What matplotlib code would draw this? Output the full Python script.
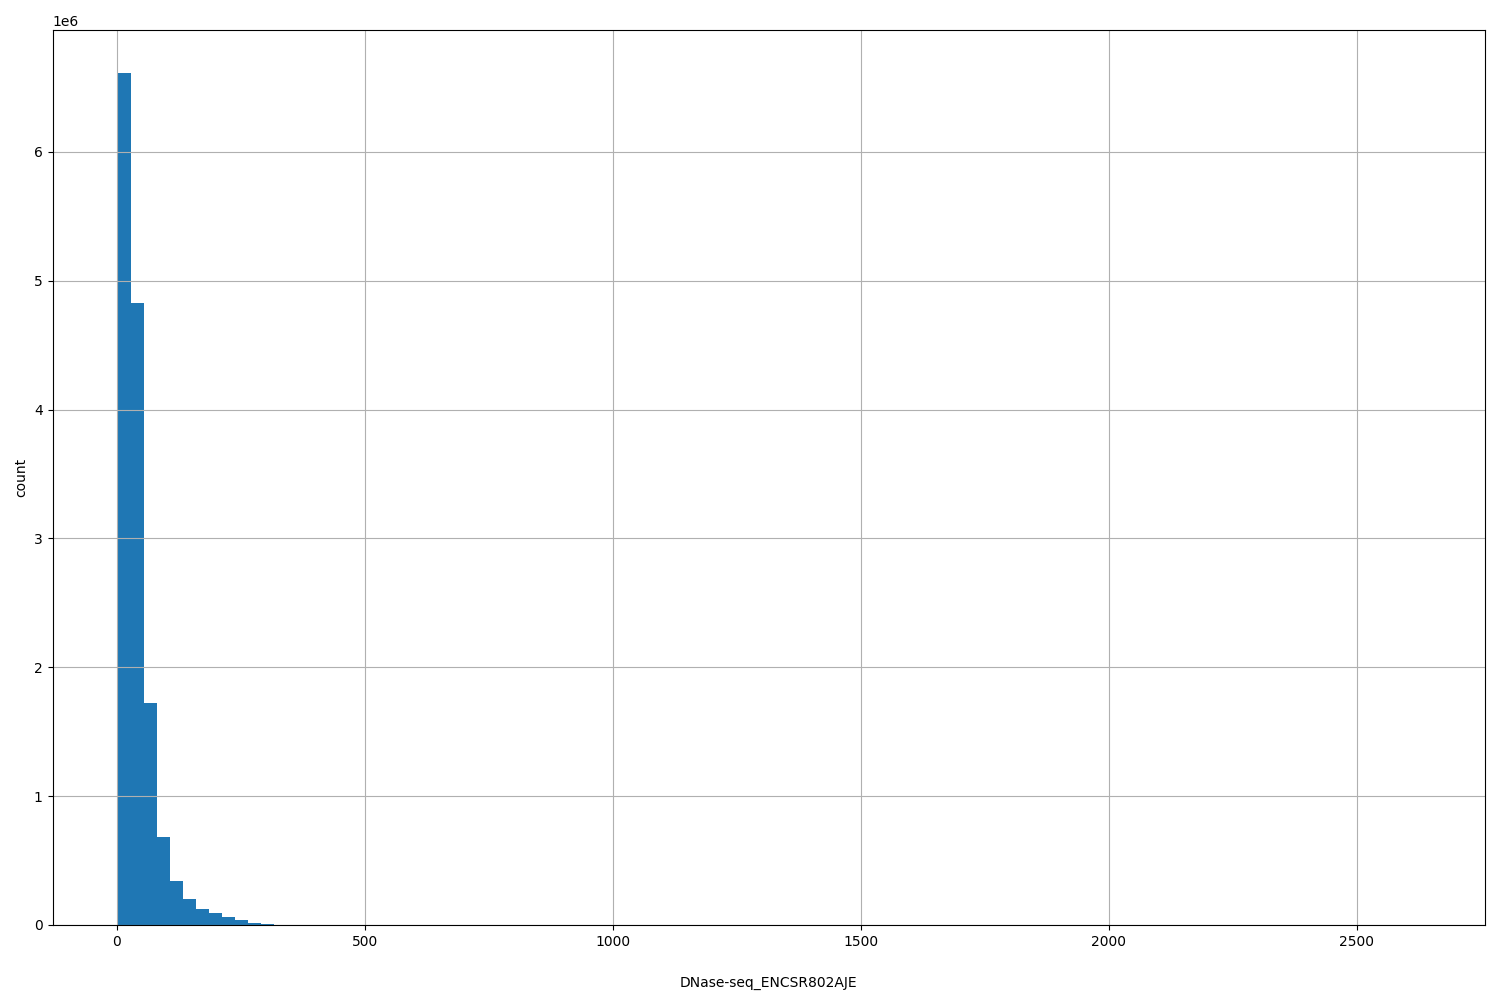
import numpy as np
import matplotlib
matplotlib.use("Agg")
import matplotlib.pyplot as plt

# histogram of signal values, 100 equal bins
x_min = 2.0
x_max = 2627.0
n_bins = 100
counts = [6615000, 4830000, 1724000, 683000, 344000, 204000, 127000, 93000, 62000, 39000,
          16000, 8000, 2500, 1200, 600, 350, 220, 150, 110, 80,
          60, 45, 35, 28, 22, 18, 15, 12, 10, 8,
          7, 6, 5, 4, 4, 3, 3, 3, 2, 2,
          2, 2, 1, 1, 1, 1, 1, 1, 1, 0,
          1, 0, 1, 0, 1, 0, 0, 1, 0, 0,
          0, 1, 0, 0, 1, 0, 0, 0, 1, 0,
          0, 0, 0, 1, 0, 0, 0, 0, 0, 1,
          0, 0, 0, 0, 0, 0, 0, 1, 0, 0,
          0, 0, 0, 0, 0, 0, 0, 0, 0, 1]
x_label = "DNase-seq_ENCSR802AJE"
y_label = "count"

edges = np.linspace(x_min, x_max, n_bins + 1)

fig = plt.figure(figsize=(15, 10), dpi=100, facecolor="white")
ax = fig.add_subplot(1, 1, 1)
fig.subplots_adjust(left=0.035, right=0.99, top=0.97, bottom=0.075)

ax.hist(edges[:-1], bins=edges, weights=counts, color="#1f77b4")
ax.grid(True)
ax.set_xlabel(x_label, labelpad=20)
ax.set_ylabel(y_label)

fig.savefig("out.png")
